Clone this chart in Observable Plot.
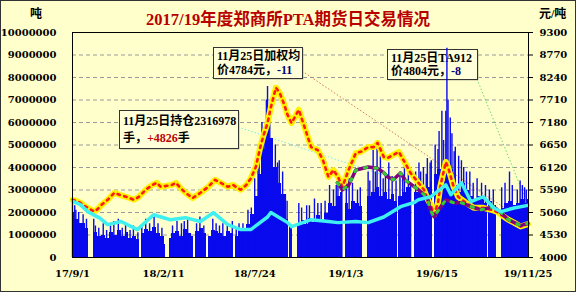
<!DOCTYPE html>
<html><head><meta charset="utf-8">
<script src="https://cdn.jsdelivr.net/npm/d3@7"></script>
<script src="https://cdn.jsdelivr.net/npm/@observablehq/plot@0.6"></script>
<style>
html,body{margin:0;padding:0;background:#fff;}
#wrap{position:relative;width:576px;height:292px;background:#FFFFCC;overflow:hidden;}
#border{position:absolute;left:0;top:0;width:574px;height:290px;border:1px solid #333;pointer-events:none;}
.t{position:absolute;font-family:"Liberation Serif","Noto Sans CJK SC",serif;font-weight:bold;white-space:nowrap;}
#title{left:0;width:576px;text-align:center;top:10px;font-size:16.5px;line-height:20px;color:#B80000;}
#uL{left:30px;top:6px;font-size:12px;line-height:16px;color:#000;}
#uR{left:539px;top:6px;font-size:12px;line-height:16px;color:#000;}
</style></head><body>
<div id="wrap">
<div class="t" id="title">2017/19年度郑商所PTA期货日交易情况</div>
<div class="t" id="uL">吨</div>
<div class="t" id="uR">元/吨</div>
<div id="border"></div>
</div>
<script>
// ---------- data ----------
const leftTicks = [0,1000000,2000000,3000000,4000000,5000000,6000000,7000000,8000000,9000000,10000000];
const rightTickLabels = [4000,4530,5060,5590,6120,6650,7180,7710,8240,8770,9300];
const xTickDates = ["2017-09-01","2018-02-11","2018-07-24","2019-01-03","2019-06-15","2019-11-25"];
const xTickLabels = ["17/9/1","18/2/11","18/7/24","19/1/3","19/6/15","19/11/25"];

// non-trading weekdays (holidays)
const holidays = ["2017-10-02","2017-10-03","2017-10-04","2017-10-05","2017-10-06",
 "2018-01-01","2018-02-15","2018-02-16","2018-02-19","2018-02-20","2018-02-21","2018-04-05","2018-04-06",
 "2018-04-30","2018-05-01","2018-06-18","2018-09-24","2018-10-01","2018-10-02","2018-10-03","2018-10-04","2018-10-05",
 "2018-12-31","2019-01-01","2019-02-04","2019-02-05","2019-02-06","2019-02-07","2019-02-08","2019-04-05",
 "2019-05-01","2019-05-02","2019-05-03","2019-06-07","2019-09-13","2019-10-01","2019-10-02","2019-10-03","2019-10-04","2019-10-07"];

// weekly typical daily volume (万手), weeks starting Monday 2017-08-28
const weeklyVolume = [
 200,170,150,150,130,0,110,95,100,85,
 110,100,120,95,110,85,95,80,105,125,
 115,135,105,95,60,85,105,115,95,125,
 105,95,115,130,105,95,120,115,105,95,
 115,105,95,115,125,145,190,270,370,480,
 600,530,400,330,280,170,145,0,150,165,
 145,175,155,185,165,195,240,225,270,290,
 240,215,250,240,225,0,270,290,310,270,
 290,260,280,250,270,290,310,240,290,320,
 300,310,340,370,390,340,410,390,320,290,
 330,300,270,260,270,260,240,250,230,0,
 220,240,250,230,240,260,240,260];

// single-day volume spikes (万手)
const spikeDates = ["2017-09-01","2017-09-05","2017-09-07","2017-09-12","2017-09-20","2017-09-26","2017-10-09","2017-10-12","2017-10-18","2017-10-26",
 "2017-11-01","2017-11-08","2017-11-14","2017-11-22","2017-11-29","2017-12-05","2017-12-13","2017-12-19","2017-12-27",
 "2018-01-03","2018-01-10","2018-01-17","2018-01-25","2018-02-01","2018-02-08","2018-02-27","2018-03-07","2018-03-15","2018-03-20",
 "2018-03-26","2018-04-11","2018-04-17","2018-04-24","2018-05-10","2018-05-16","2018-05-22","2018-05-28","2018-06-05","2018-06-14",
 "2018-06-21","2018-06-26","2018-07-03","2018-07-12","2018-07-18","2018-07-24","2018-07-30","2018-08-01","2018-08-06","2018-08-08",
 "2018-08-10","2018-08-14","2018-08-16","2018-08-20","2018-08-24","2018-08-30","2018-09-03","2018-09-06","2018-09-12","2018-09-17",
 "2018-09-20","2018-10-11","2018-10-16","2018-10-25","2018-10-30","2018-11-08","2018-11-14","2018-11-20","2018-11-27","2018-12-05",
 "2018-12-12","2018-12-17","2018-12-20","2018-12-27",
 "2019-01-04","2019-01-09","2019-01-15","2019-01-24","2019-01-29","2019-02-12","2019-02-15","2019-02-21","2019-02-25","2019-02-28",
 "2019-03-06","2019-03-11","2019-03-15","2019-03-21","2019-03-27","2019-04-03","2019-04-10","2019-04-15","2019-04-18","2019-04-25",
 "2019-04-29","2019-05-08","2019-05-14","2019-05-17","2019-05-22","2019-05-27","2019-05-29","2019-06-03","2019-06-05","2019-06-12",
 "2019-06-17","2019-06-19","2019-06-24","2019-06-27","2019-07-01","2019-07-03","2019-07-05","2019-07-09","2019-07-12","2019-07-16",
 "2019-07-18","2019-07-24","2019-07-29","2019-08-02","2019-08-07","2019-08-13","2019-08-19","2019-08-26","2019-09-03","2019-09-10",
 "2019-09-17","2019-09-24","2019-10-09","2019-10-15","2019-10-23","2019-10-28","2019-11-06","2019-11-11","2019-11-15","2019-11-19","2019-11-22"];
const spikeVolume = [250,230,210,200,190,170,170,140,130,150,
 120,140,160,170,130,150,120,140,110,
 140,170,150,180,150,130,140,160,150,160,
 170,150,180,140,170,150,140,150,140,160,
 130,150,150,210,220,350,420,480,600,520,
 560,700,760,650,520,500,420,430,380,280,
 250,240,220,230,230,260,240,240,250,320,
 300,320,360,340,
 390,350,330,300,310,380,340,480,380,510,
 450,350,370,420,360,340,380,350,420,400,
 330,380,420,380,400,370,440,420,430,500,
 480,560,650,520,650,930,700,620,550,470,
 490,450,430,400,380,380,330,350,330,320,
 300,300,310,330,380,320,300,340,320,310,300];

// weighted average price (元/吨)
const priceDates = ["2017-09-01","2017-09-08","2017-09-15","2017-09-22","2017-09-28","2017-10-10","2017-10-16","2017-10-23","2017-11-03","2017-11-15",
 "2017-11-24","2017-12-06","2017-12-20","2017-12-28","2018-01-10","2018-01-22","2018-01-30","2018-02-06","2018-02-26","2018-03-05",
 "2018-03-13","2018-03-22","2018-04-04","2018-04-18","2018-05-02","2018-05-14","2018-05-24","2018-06-06","2018-06-15","2018-06-29",
 "2018-07-09","2018-07-17","2018-07-26","2018-08-03","2018-08-09","2018-08-16","2018-08-22","2018-08-31","2018-09-07","2018-09-14",
 "2018-09-21","2018-09-28","2018-10-11","2018-10-23","2018-11-02","2018-11-14","2018-11-23","2018-12-03","2018-12-12","2018-12-20",
 "2018-12-28","2019-01-08","2019-01-21","2019-01-30","2019-02-12","2019-02-22","2019-03-01","2019-03-12","2019-03-19","2019-03-29",
 "2019-04-08","2019-04-19","2019-04-29","2019-05-13","2019-05-23","2019-05-30","2019-06-04","2019-06-10","2019-06-17","2019-06-21",
 "2019-07-01","2019-07-05","2019-07-10","2019-07-15","2019-07-23","2019-08-06","2019-08-20","2019-09-06","2019-09-20","2019-09-30",
 "2019-10-21","2019-10-31","2019-11-12","2019-11-25"];
const priceValues = [5360,5330,5290,5220,5170,5080,5140,5240,5360,5525,
 5477,5430,5360,5420,5595,5710,5760,5665,5710,5760,
 5640,5525,5400,5525,5665,5830,5760,5665,5710,5595,
 5710,5860,6130,6600,6885,7165,7540,8000,7870,7635,
 7355,7165,7480,7000,6600,6530,6300,5900,6060,5900,
 5665,6060,6460,6490,6600,6600,6700,6370,6345,6415,
 6490,6230,5990,5760,5595,5360,5240,5010,5290,5665,
 6250,6130,5900,5665,5430,5290,5170,5170,5125,5080,
 4890,4820,4730,4784];

// TA912 contract price (元/吨)
const taDates = ["2018-12-19","2018-12-28","2019-01-08","2019-01-21","2019-02-12","2019-03-01","2019-03-12","2019-03-19","2019-03-29","2019-04-11",
 "2019-04-19","2019-05-06","2019-05-13","2019-05-23","2019-05-30","2019-06-04","2019-06-10","2019-06-17","2019-07-01","2019-07-15",
 "2019-07-29","2019-08-15","2019-09-02","2019-09-25","2019-10-08","2019-10-21","2019-11-12","2019-11-25"];
const taValues = [5760,5595,5700,6060,6130,6100,6000,5900,5830,5990,
 5830,5665,5595,5480,5360,5100,4960,5100,5360,5290,
 5290,5200,5125,5195,5050,4890,4750,4804];

// open interest (万手)
const oiDates = ["2017-09-01","2017-09-15","2017-09-28","2017-10-20","2017-11-03","2017-11-27","2017-12-26","2018-01-24","2018-02-23","2018-03-22",
 "2018-04-18","2018-05-11","2018-06-06","2018-06-29","2018-07-17","2018-08-16","2018-08-22","2018-09-21","2018-09-28","2018-11-02",
 "2018-12-03","2018-12-20","2019-01-21","2019-02-12","2019-03-12","2019-04-11","2019-05-06","2019-05-13","2019-06-04","2019-07-01",
 "2019-07-10","2019-07-29","2019-08-15","2019-09-06","2019-09-25","2019-10-08","2019-10-31","2019-11-25"];
const oiValues = [250,235,204,175,146,160,124,190,168,177,
 160,199,146,124,124,180,200,155,137,168,
 160,155,160,155,180,226,245,257,270,323,
 279,332,248,270,220,204,220,231.6978];

// annotation figures
const oiLast = 2316978, oiChange = "+4826";
const priceLast = 4784, priceChange = "-11";
const taLast = 4804, taChange = "-8";

// ---------- build ----------
const parse = d3.utcParse("%Y-%m-%d");
const fmt = d3.utcFormat("%Y-%m-%d");
const startDate = parse("2017-09-01"), endDate = parse("2019-11-25");
const toLeft = p => (p - 4000) / 5300 * 1e7;

const weekStarts = d3.utcMonday.range(parse("2017-08-28"), d3.utcDay.offset(endDate, 1));
const holidaySet = new Set(holidays);
const tradingDays = d3.utcDay.range(startDate, d3.utcDay.offset(endDate, 1))
  .filter(d => d.getUTCDay() !== 0 && d.getUTCDay() !== 6 && !holidaySet.has(fmt(d)));
const bars = tradingDays.map((d, i) => {
  const wk = +d3.utcMonday.floor(d);
  const wi = weekStarts.findIndex(w => +w === wk);
  const next = tradingDays[i + 1];
  const x2 = next && (next - d) <= 3 * 864e5 ? next : d3.utcDay.offset(d, 1);
  return {x1: d, x2, v: weeklyVolume[wi] * 1e4};
});
const spikes = spikeDates.map((d, i) => ({date: parse(d), v: spikeVolume[i] * 1e4}));
const wp = priceDates.map((d, i) => ({date: parse(d), y: toLeft(priceValues[i])}));
const ta = taDates.map((d, i) => ({date: parse(d), y: toLeft(taValues[i])}));
const oi = oiDates.map((d, i) => ({date: parse(d), y: oiValues[i] * 1e4}));

const rightMap = new Map(leftTicks.map((t, i) => [t, rightTickLabels[i]]));
const xTicks = xTickDates.map(parse);
const xMap = new Map(xTicks.map((d, i) => [+d, xTickLabels[i]]));

const BLUE = "#0A0AEE";
const chart = Plot.plot({
  width: 576, height: 292, marginLeft: 72, marginRight: 48, marginTop: 32, marginBottom: 35,
  style: {background: "transparent", fontFamily: "DejaVu Serif", fontSize: "10px", fontWeight: "bold", color: "#000", overflow: "visible"},
  x: {type: "utc", domain: [startDate, d3.utcDay.offset(endDate, 1)], axis: null},
  y: {domain: [0, 1e7], axis: null, label: null},
  marks: [
    Plot.gridY(leftTicks.slice(1, -1), {stroke: "#9a9a9a", strokeOpacity: 1, strokeDasharray: "4,3"}),
    Plot.rectY(bars, {x1: "x1", x2: "x2", y1: 0, y2: "v", fill: BLUE, shapeRendering: "crispEdges"}),
    Plot.ruleX(spikes, {x: "date", y1: 0, y2: "v", stroke: BLUE, strokeWidth: 1.4}),
    Plot.line(wp, {x: "date", y: "y", stroke: "#FFF200", strokeWidth: 6, strokeLinejoin: "round"}),
    Plot.line(wp, {x: "date", y: "y", stroke: "#FF1A1A", strokeWidth: 2.6, strokeDasharray: "2.5,4.5"}),
    Plot.line(ta, {x: "date", y: "y", stroke: "#800080", strokeWidth: 3.5, strokeLinejoin: "round"}),
    Plot.line(ta, {x: "date", y: "y", stroke: "#33CC33", strokeWidth: 3, strokeDasharray: "2.5,8"}),
    Plot.line(oi, {x: "date", y: "y", stroke: "#3FF0F0", strokeWidth: 3.5, strokeLinejoin: "round"}),
    Plot.frame({stroke: "#000"}),
    Plot.axisY(leftTicks, {anchor: "left", tickSize: 0, tickPadding: 16, tickFormat: d => String(d), label: null}),
    Plot.axisY(leftTicks, {anchor: "right", tickSize: 4, tickPadding: 7, tickFormat: d => String(rightMap.get(d)), label: null}),
    Plot.axisX(xTicks, {anchor: "bottom", tickSize: 0, tickPadding: 12, tickFormat: d => xMap.get(+d), label: null})
  ]
});
chart.style.position = "absolute";
chart.style.left = "0px";
chart.style.top = "0px";
const wrap = document.getElementById("wrap");
wrap.insertBefore(chart, document.getElementById("title"));

// ---------- annotations (boxes + leader lines) ----------
const sx = chart.scale("x"), sy = chart.scale("y");
const barsG = chart.querySelector('g[aria-label="rect"]');
const ann = document.createElementNS("http://www.w3.org/2000/svg", "g");
chart.insertBefore(ann, barsG);
const g = d3.select(ann).attr("text-anchor", "start");
const endX = sx.apply(endDate) + 0.5;

const leaders = [
  {x1: 238, y1: 127, x2: endX, y2: sy.apply(toLeft(taLast)), stroke: "#7FE6E6"},
  {x1: 302, y1: 71, x2: endX, y2: sy.apply(toLeft(priceLast)), stroke: "#D9785A"},
  {x1: 477, y1: 79, x2: endX, y2: sy.apply(oiLast), stroke: "#66DD66"}
];
g.selectAll("line").data(leaders).join("line")
  .attr("x1", d => d.x1).attr("y1", d => d.y1).attr("x2", d => d.x2).attr("y2", d => d.y2)
  .attr("stroke", d => d.stroke).attr("stroke-width", 1).attr("stroke-dasharray", "1.5,2");

const boxes = [
  {x: 119, y: 110, w: 119, h: 38, lines: [[["11月25日持仓" + oiLast, "#000"]], [["手，", "#000"], [oiChange, "#C00000"], ["手", "#000"]]]},
  {x: 213, y: 47, w: 89, h: 31, lines: [[["11月25日加权均", "#000"]], [["价" + priceLast + "元，", "#000"], [priceChange, "#000080"]]]},
  {x: 387, y: 49, w: 90, h: 30, lines: [[["11月25日TA912", "#000"]], [["价" + taLast + "元，", "#000"], [taChange, "#000080"]]]}
];
boxes.forEach(b => {
  g.append("rect").attr("x", b.x + 1.5).attr("y", b.y + 1.5).attr("width", b.w).attr("height", b.h).attr("fill", "#bdbd9a");
  g.append("rect").attr("x", b.x + 0.5).attr("y", b.y + 0.5).attr("width", b.w).attr("height", b.h)
    .attr("fill", "#FFFFDA").attr("stroke", "#333").attr("stroke-width", 1);
  const lh = (b.h - 4) / 2;
  b.lines.forEach((ln, li) => {
    const t = g.append("text").attr("x", b.x + 4).attr("y", b.y + 2 + lh * (li + 0.5) + 4.5)
      .attr("text-anchor", "start")
      .attr("font-family", '"Liberation Serif","Noto Sans CJK SC",serif').attr("font-size", 12).attr("font-weight", "bold");
    ln.forEach(([s, c]) => t.append("tspan").attr("fill", c).text(s));
  });
});
</script>
</body></html>
